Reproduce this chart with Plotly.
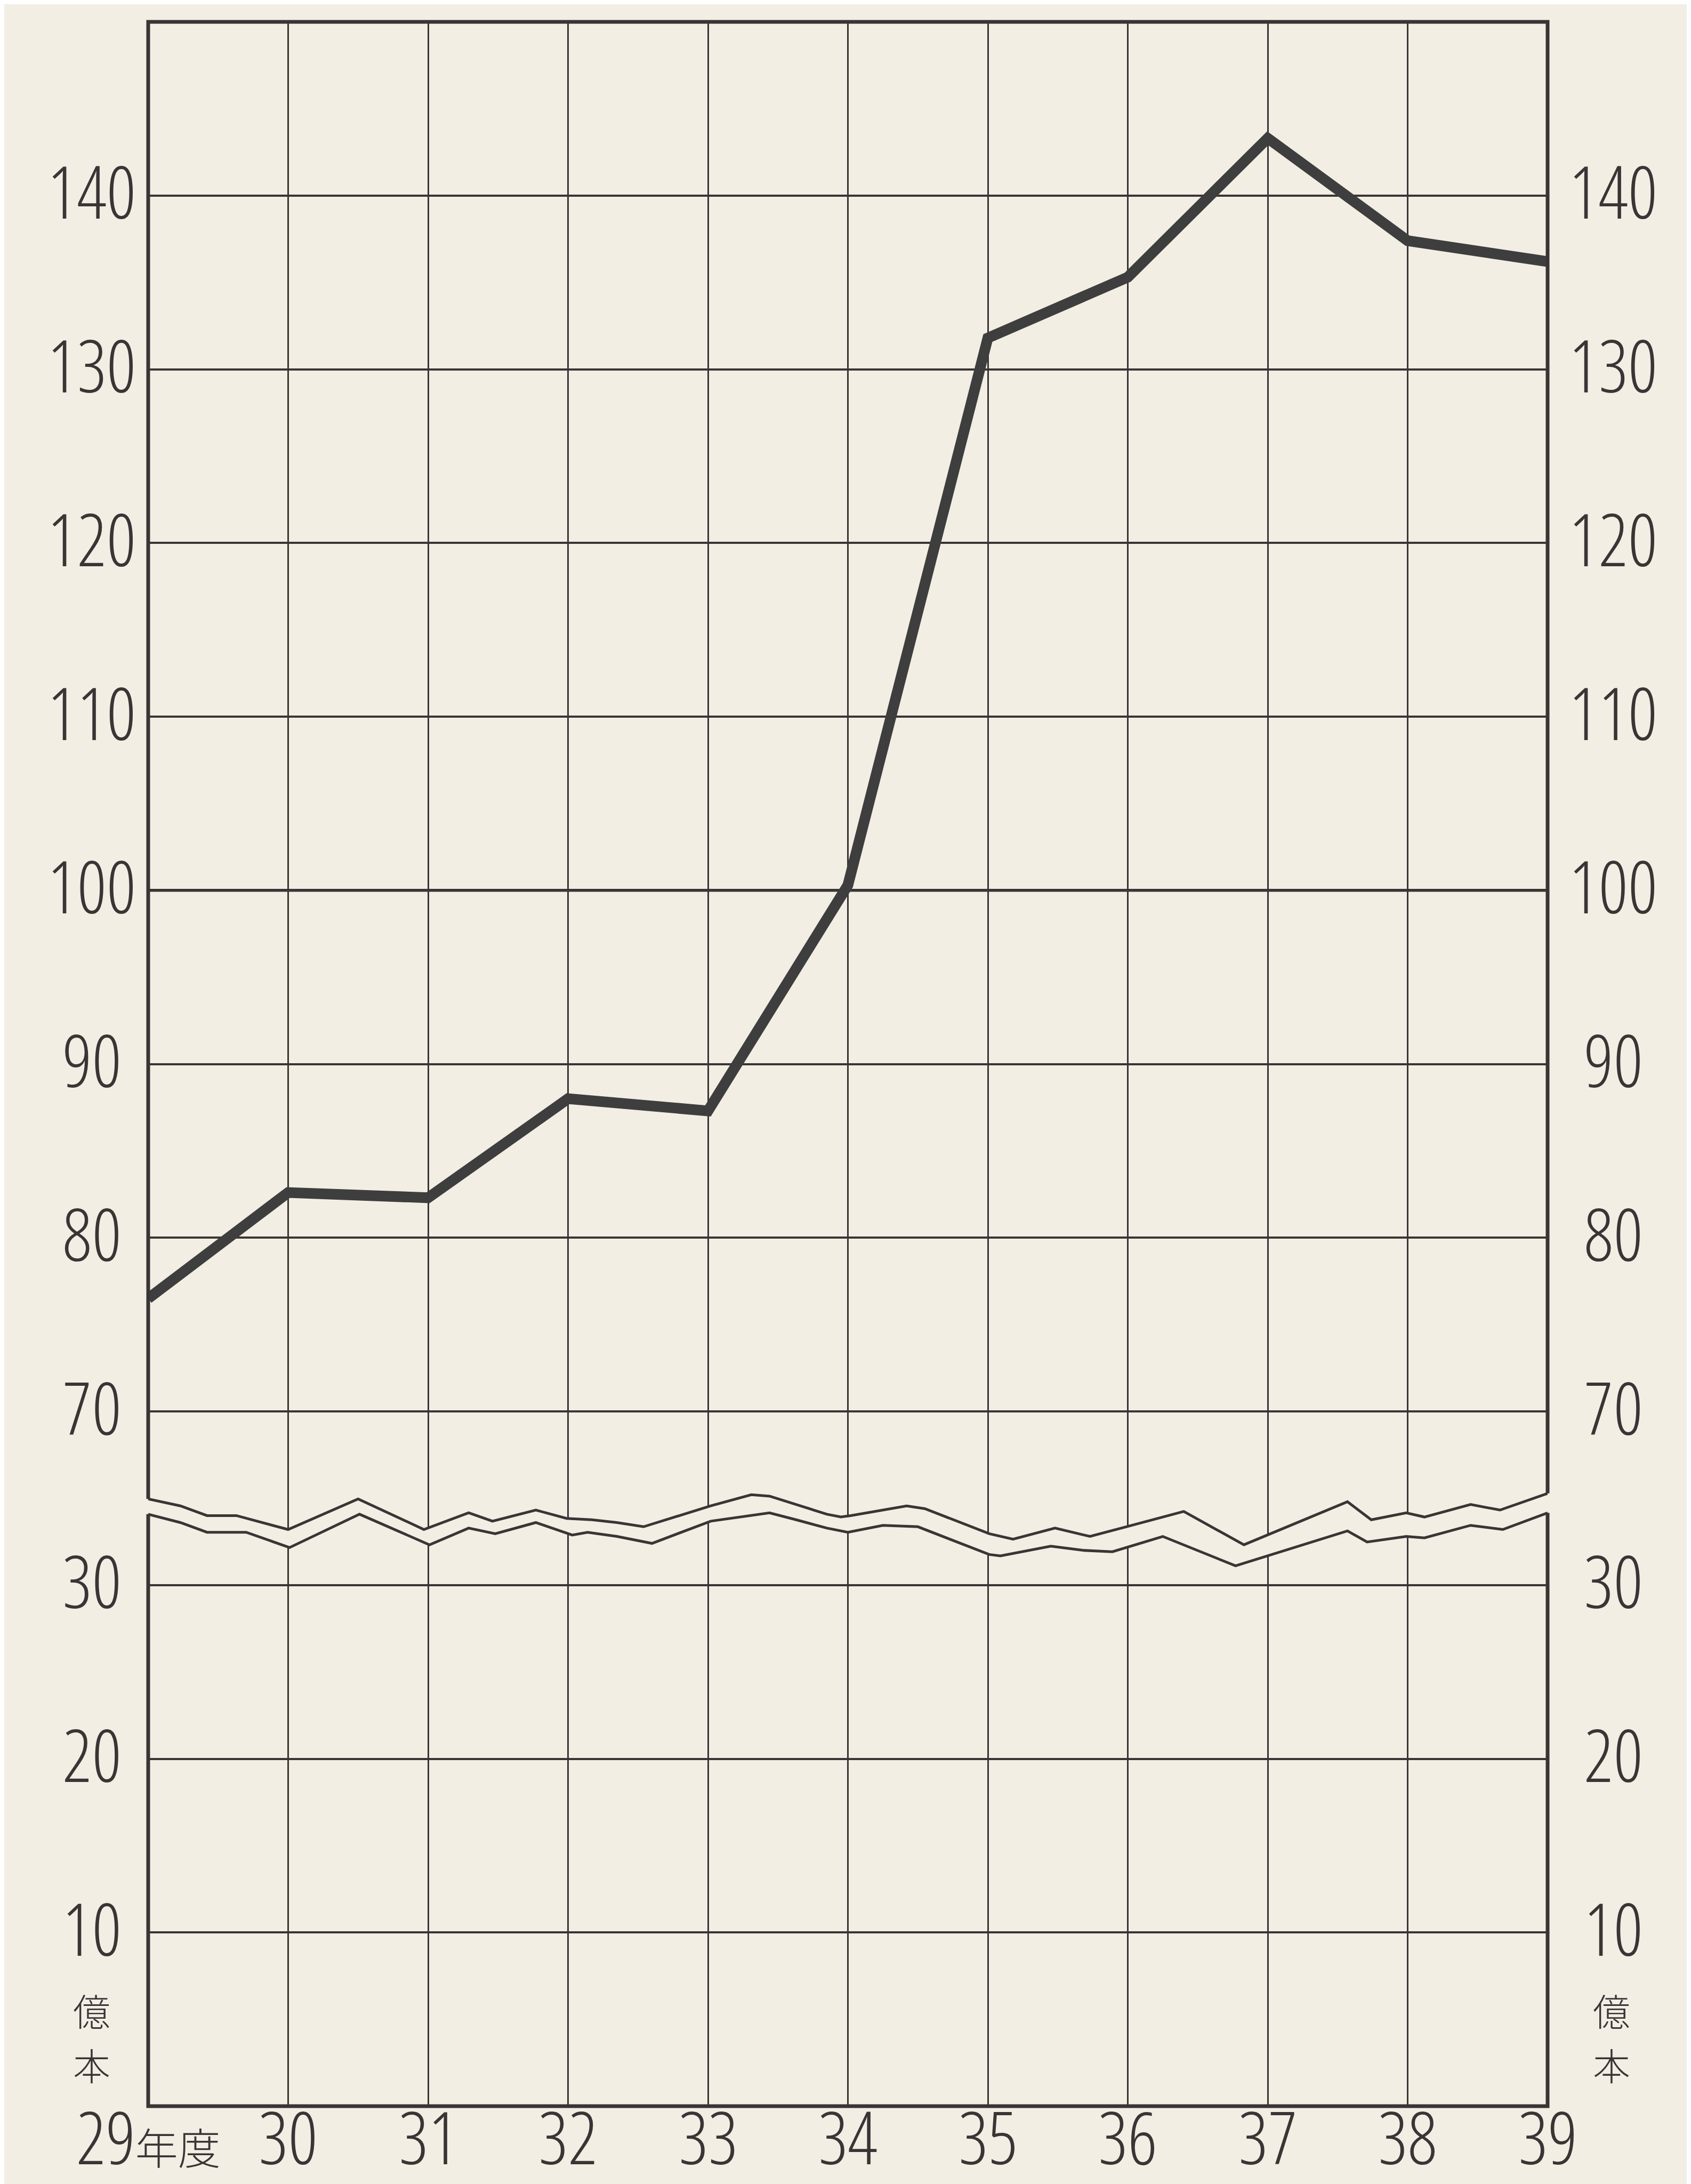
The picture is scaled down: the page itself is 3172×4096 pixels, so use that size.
import plotly.graph_objects as go

# ---------------- data ----------------
years = [29, 30, 31, 32, 33, 34, 35, 36, 37, 38, 39]
consumption = [76.5, 82.6, 82.3, 88.0, 87.3, 100.3, 131.8, 135.3, 143.3, 137.4, 136.2]  # 億本

year_labels = ["29", "30", "31", "32", "33", "34", "35", "36", "37", "38", "39"]
year_suffix = "年度"
y_tick_values = [10, 20, 30, 70, 80, 90, 100, 110, 120, 130, 140]
y_top_value = 150
unit_chars = ["億", "本"]

# broken scale: after 30 the axis jumps straight to 70
break_low = 30
break_high = 70
break_gap = break_high - break_low - 10  # 30 units removed


def to_axis(v):
    return v if v <= break_low else v - break_gap


# wavy break symbol (x in years, y in axis units between 30 and 70 marks)
break_upper_x = [29.00, 29.23, 29.42, 29.63, 30.00, 30.50, 30.97, 31.29, 31.46, 31.77, 31.99, 32.17,
                 32.35, 32.54, 33.02, 33.31, 33.44, 33.85, 33.95, 34.02, 34.42, 34.55, 35.01, 35.18,
                 35.48, 35.60, 35.73, 35.99, 36.40, 36.83, 37.57, 37.74, 37.99, 38.12, 38.45, 38.66, 39.00]
break_upper_y = [34.96, 34.56, 34.00, 34.00, 33.20, 34.96, 33.20, 34.16, 33.68, 34.32, 33.84, 33.76,
                 33.60, 33.36, 34.56, 35.20, 35.12, 34.08, 33.92, 34.00, 34.56, 34.40, 32.96, 32.64,
                 33.28, 33.04, 32.80, 33.36, 34.24, 32.32, 34.80, 33.76, 34.16, 33.92, 34.64, 34.32, 35.28]
break_lower_x = [29.00, 29.23, 29.42, 29.70, 30.01, 30.51, 31.01, 31.29, 31.48, 31.77, 32.03, 32.14,
                 32.35, 32.60, 33.02, 33.31, 33.44, 33.63, 33.85, 34.00, 34.25, 34.50, 35.01, 35.09,
                 35.45, 35.68, 35.89, 36.25, 36.77, 37.57, 37.71, 37.99, 38.12, 38.45, 38.68, 39.00]
break_lower_y = [34.08, 33.60, 33.04, 33.04, 32.16, 34.08, 32.32, 33.28, 32.96, 33.60, 32.88, 33.04,
                 32.80, 32.40, 33.68, 34.00, 34.16, 33.76, 33.28, 33.04, 33.44, 33.36, 31.76, 31.68,
                 32.24, 32.00, 31.92, 32.80, 31.11, 33.12, 32.48, 32.80, 32.72, 33.44, 33.20, 34.16]

# ---------------- style ----------------
BG = "#f3eee4"
INK = "#3a3535"
LINE = "#3f3e3e"
FONT = "Open Sans, Lato, Noto Sans CJK JP, sans-serif"
CJK = "Noto Sans CJK JP, sans-serif"
NUM_STYLE = "font-stretch:85%"
LEFT_LABEL_X = -0.0402   # centre of the left label column (paper units)
RIGHT_LABEL_X = 1.0469   # centre of the right label column
X_LABEL_Y = -0.020       # year labels, just under the frame (paper units)
UNIT_Y = [5.53, 2.42]    # axis positions of 億 and 本 (below the "10" mark)


def narrow(t):
    return "<span style='" + NUM_STYLE + "'>" + t + "</span>"


y_max = to_axis(y_top_value)
y_pos = [to_axis(v) for v in y_tick_values]
x_text = ([narrow(year_labels[0]) + "<span style='font-size:80px'>" + year_suffix + "</span>"]
          + [narrow(t) for t in year_labels[1:]])

fig = go.Figure()

# background band hiding grid inside the axis break
fig.add_trace(go.Scatter(
    x=break_upper_x + break_lower_x[::-1],
    y=break_upper_y + break_lower_y[::-1],
    mode="lines", fill="toself", fillcolor=BG, line=dict(width=0),
    hoverinfo="skip", showlegend=False))
for bx, by in ((break_upper_x, break_upper_y), (break_lower_x, break_lower_y)):
    fig.add_trace(go.Scatter(x=bx, y=by, mode="lines",
                             line=dict(color=INK, width=5), hoverinfo="skip", showlegend=False))

# main series
fig.add_trace(go.Scatter(
    x=years, y=[to_axis(v) for v in consumption], mode="lines",
    line=dict(color=LINE, width=20), showlegend=False))

tick_font = dict(family=FONT, size=136, color=INK, weight=300)

fig.update_layout(
    width=3172, height=4096,
    margin=dict(l=270, r=277, t=33, b=154, autoexpand=False),
    paper_bgcolor=BG, plot_bgcolor=BG, showlegend=False,
    xaxis=dict(range=[years[0], years[-1]], tickmode="array", tickvals=years, showticklabels=False,
               ticks="", showgrid=True, gridcolor=INK, gridwidth=3, zeroline=False, showline=False,
               automargin=False),
    yaxis=dict(range=[0, y_max], tickmode="array", tickvals=y_pos, showticklabels=False,
               ticks="", zeroline=False, showline=False, automargin=False,
               showgrid=True, gridcolor=INK, gridwidth=3.5),
)

# year labels under the frame
for yr, txt in zip(years, x_text):
    fig.add_annotation(x=yr, y=X_LABEL_Y, xref="x", yref="paper", text=txt, showarrow=False,
                       font=tick_font, xanchor="center", yanchor="middle", yshift=22)

# y labels, centred in a column on each side (as in the original print)
for xp in (LEFT_LABEL_X, RIGHT_LABEL_X):
    for v, yp in zip(y_tick_values, y_pos):
        fig.add_annotation(x=xp, y=yp, xref="paper", yref="y", text=narrow(str(v)),
                           showarrow=False, font=tick_font, xanchor="center", yanchor="middle",
                           yshift=9)

# thicker 100 line
fig.add_shape(type="line", xref="x", yref="y", x0=years[0], x1=years[-1],
              y0=to_axis(100), y1=to_axis(100), line=dict(color=INK, width=5.5), layer="between")


# frame, interrupted by the break band on both sides
def frac(v_axis):
    return v_axis / y_max


lower_path = "M 0,{a} L 0,0 L 1,0 L 1,{b}".format(a=frac(break_lower_y[0]), b=frac(break_lower_y[-1]))
upper_path = "M 0,{a} L 0,1 L 1,1 L 1,{b}".format(a=frac(break_upper_y[0]), b=frac(break_upper_y[-1]))
for p in (lower_path, upper_path):
    fig.add_shape(type="path", xref="paper", yref="paper", path=p,
                  line=dict(color=INK, width=7), layer="above")

# unit label 億 / 本 (stacked) under the "10" label on both sides
for xp in (LEFT_LABEL_X, RIGHT_LABEL_X - 0.001):
    for ch, yv in zip(unit_chars, UNIT_Y):
        fig.add_annotation(x=xp, y=yv, xref="paper", yref="y", text=ch, showarrow=False,
                           font=dict(family=CJK, size=70, color=INK, weight=300),
                           xanchor="center", yanchor="middle")

fig.write_html("out.html")
